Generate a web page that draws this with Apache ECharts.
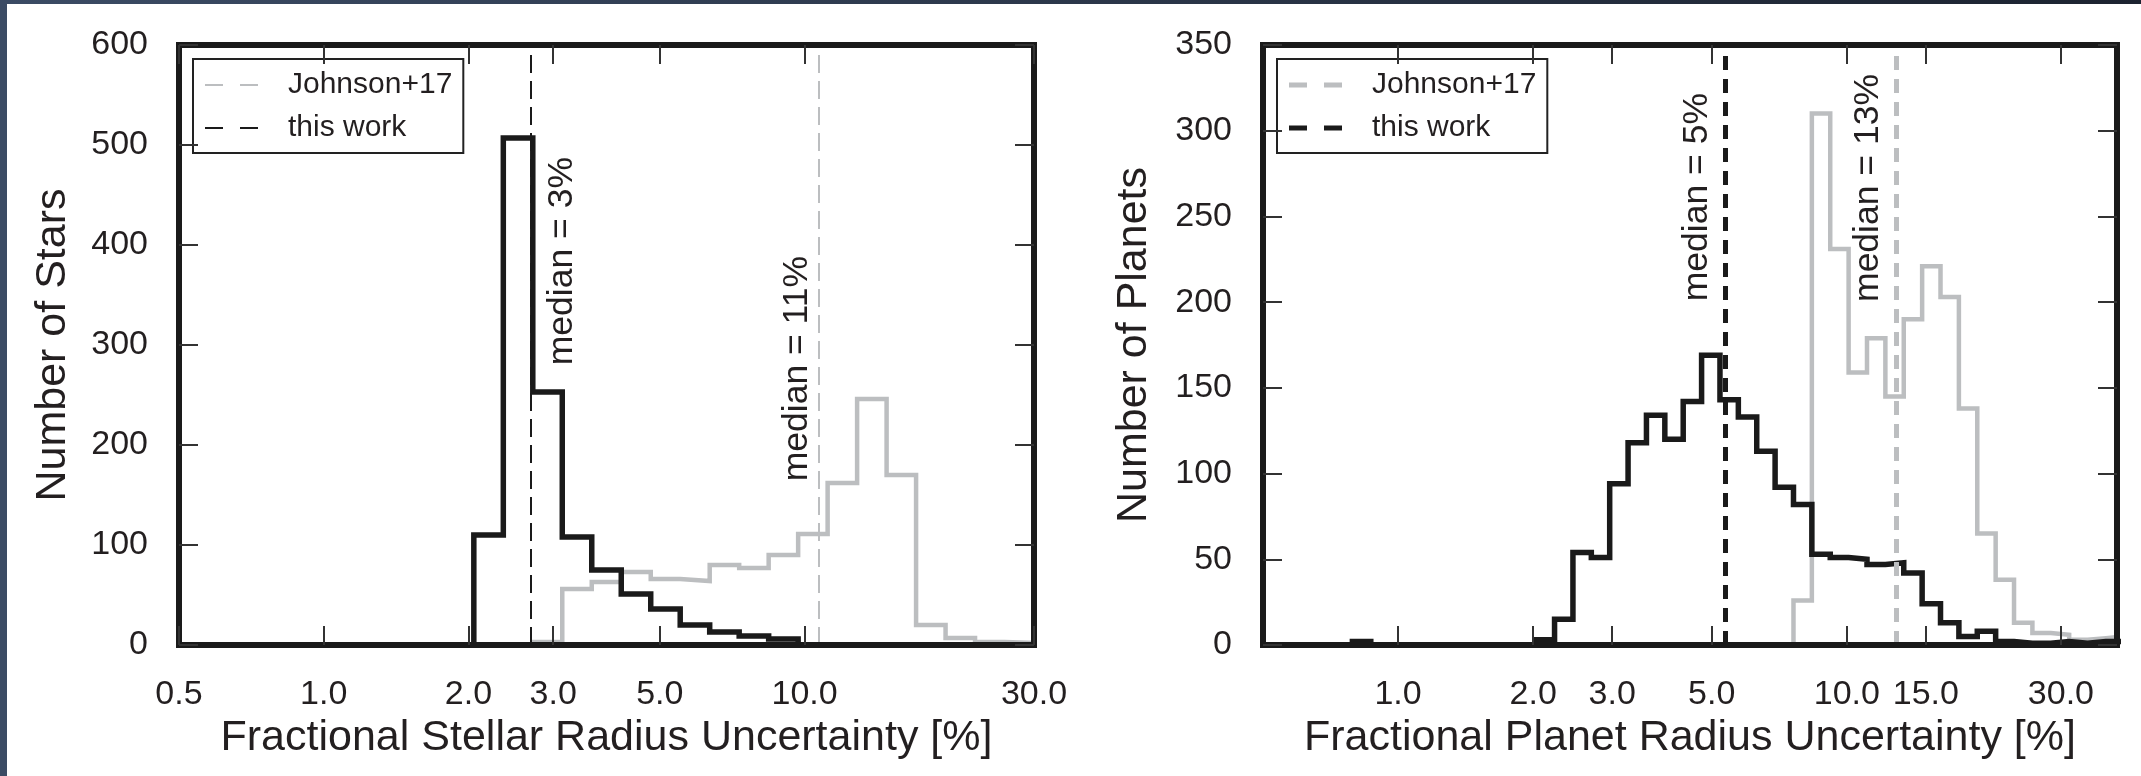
<!DOCTYPE html>
<html><head><meta charset="utf-8">
<script src="https://cdn.jsdelivr.net/npm/echarts@6/dist/echarts.min.js"></script>
<style>html,body{margin:0;padding:0;background:#fff;}#c{width:2141px;height:776px;}</style>
</head><body><div id="c"></div>
<script>
// ---------------- data ----------------
// Stellar radius panel: histogram bin edges (%) and counts per bin
const starBinEdges = [0.5, 0.5758, 0.6631, 0.7637, 0.8795, 1.0129, 1.1664, 1.3433, 1.5470, 1.7816,
  2.0517, 2.3629, 2.7212, 3.1338, 3.6091, 4.1563, 4.7866, 5.5124, 6.3483, 7.3110,
  8.4197, 9.6964, 11.1668, 12.8601, 14.8103, 17.0562, 19.6426, 22.6212, 26.0516, 30.0];
const starThisWork = [0,0,0,0,0,0,0,0,0,0, 110,507,253,108,75,51,36,20,13,9, 6,0,0,0,0,0,0,0,0];
const starJohnson  = [0,0,0,0,0,0,0,0,0,0, 0,0,3,56,63,73,66,64,80,77, 90,111,162,246,170,20,7,3,2];
const starMedianThisWork = 2.70;
const starMedianJohnson = 10.65;
const starXTicks = [0.5, 1, 2, 3, 5, 10, 30];

// Planet radius panel
const planetBinEdges = [0.4937, 0.5425, 0.5961, 0.6551, 0.7199, 0.7910, 0.8693, 0.9552, 1.0497, 1.1535,
  1.2675, 1.3929, 1.5306, 1.6820, 1.8483, 2.0311, 2.2320, 2.4527, 2.6953, 2.9618,
  3.2547, 3.5766, 3.9303, 4.3190, 4.7461, 5.2154, 5.7312, 6.2980, 6.9209, 7.6053,
  8.3574, 9.1839, 10.0922, 11.0903, 12.1871, 13.3923, 14.7168, 16.1722, 17.7716, 19.5291,
  21.4605, 23.5828, 25.9150, 28.4779, 31.2942, 34.3891, 37.7900, 41.5272];
const planetThisWork = [0,0,0,0,0, 2, 0,0,0,0,0,0,0,0,0,
  3,15,54,51,94,118,134,120,142,169,143,133,113,92,82,53,51,50,47,48,42,24,13,5,8,2,1,1,2,1,2,2];
const planetJohnson = [0,0,0,0,0,0,0,0,0,0, 0,0,0,0,0,0,0,0,0,0, 0,0,0,0,0,0,0,0,0,
  26,310,231,159,179,145,190,221,203,138,65,38,13,7,6,3,4,5];
const planetMedianThisWork = 5.31;
const planetMedianJohnson = 12.87;
const planetXTicks = [1, 2, 3, 5, 10, 15, 30];

const seriesNames = ['Johnson+17', 'this work'];

// ---------------- styling ----------------
const FONT = "'Liberation Sans', Arial, Helvetica, sans-serif";
const TXT = '#231f20';
const BLACK = '#1a1a1a';
const GRAY = '#bcbec0';
const L10 = Math.log10;

function stepPath(edges, counts) {
  const pts = [[L10(edges[0]), 0]];
  for (let i = 0; i < counts.length; i++) {
    pts.push([L10(edges[i]), counts[i]]);
    pts.push([L10(edges[i + 1]), counts[i]]);
  }
  pts.push([L10(edges[edges.length - 1]), 0]);
  return pts;
}

const frameLine = { show: true, onZero: false, lineStyle: { color: BLACK, width: 6, cap: 'square' } };
const tickStyle = { color: '#333', width: 2 };

function xAxes(grid, lo, hi, ticks, name) {
  const cv = ticks.map(L10);
  const base = {
    gridIndex: grid, type: 'value', min: L10(lo), max: L10(hi), z: 10,
    axisLine: frameLine, splitLine: { show: false }
  };
  return [
    Object.assign({}, base, {
      position: 'bottom',
      axisTick: { show: true, inside: true, length: 19, lineStyle: tickStyle, customValues: cv },
      axisLabel: { show: true, customValues: cv, margin: 33, fontSize: 34, color: TXT, fontFamily: FONT,
        formatter: v => Math.pow(10, v).toFixed(1) },
      name: name, nameLocation: 'middle', nameGap: 72,
      nameTextStyle: { fontSize: 43, color: TXT, fontFamily: FONT }
    }),
    Object.assign({}, base, {
      position: 'top',
      axisTick: { show: true, inside: true, length: 19, lineStyle: tickStyle, customValues: cv },
      axisLabel: { show: false }
    })
  ];
}
function yAxes(grid, max, step, name, gap) {
  const base = {
    gridIndex: grid, type: 'value', min: 0, max: max, interval: step, z: 10,
    axisLine: frameLine, splitLine: { show: false },
    axisTick: { show: true, inside: true, length: 19, lineStyle: tickStyle }
  };
  return [
    Object.assign({}, base, {
      position: 'left',
      axisLabel: { show: true, margin: 31, fontSize: 34, color: TXT, fontFamily: FONT },
      name: name, nameLocation: 'middle', nameGap: gap,
      nameTextStyle: { fontSize: 43, color: TXT, fontFamily: FONT }
    }),
    Object.assign({}, base, { position: 'right', axisLabel: { show: false } })
  ];
}

function histSeries(axisIdx, name, edges, counts, color, width) {
  return {
    type: 'line', name: name, xAxisIndex: axisIdx, yAxisIndex: axisIdx,
    data: stepPath(edges, counts), symbol: 'none', showSymbol: false, silent: true,
    lineStyle: { color: color, width: width, join: 'miter', cap: 'butt' },
    emphasis: { disabled: true }, animation: false, z: 2
  };
}
function medianSeries(axisIdx, name, median, color, width, dash, pos, dist) {
  return {
    type: 'line', name: name, xAxisIndex: axisIdx, yAxisIndex: axisIdx, data: [],
    symbol: 'none', lineStyle: { color: color, width: width, type: dash }, itemStyle: { color: color },
    animation: false, z: 3,
    markLine: {
      silent: true, symbol: ['none', 'none'], animation: false, emphasis: { disabled: true },
      lineStyle: { color: color, width: width, type: dash, cap: 'butt' },
      label: {
        show: true, position: pos, distance: dist, formatter: 'median = ' + Math.round(median) + '%',
        fontSize: 35.5, color: TXT, fontFamily: FONT
      },
      data: [{ xAxis: L10(median) }]
    }
  };
}
function legendFor(left, h) {
  const icon = 'path://M0,0h18v' + h + 'h-18zM35,0h18v' + h + 'h-18z';
  return {
    left: left, top: 59, orient: 'vertical', selectedMode: false,
    backgroundColor: '#fff', borderColor: '#222', borderWidth: 2, borderRadius: 0,
    padding: [11, 11, 10, 12], itemGap: 13, itemWidth: 53, itemHeight: 14,
    textStyle: { fontSize: 30, color: TXT, fontFamily: FONT, lineHeight: 30, padding: [0, 0, 0, 25] },
    data: [
      { name: seriesNames[0], icon: icon, itemStyle: { color: GRAY, borderWidth: 0 } },
      { name: seriesNames[1], icon: icon, itemStyle: { color: BLACK, borderWidth: 0 } }
    ]
  };
}

const option = {
  backgroundColor: '#fff',
  animation: false,
  textStyle: { fontFamily: FONT },
  grid: [
    { left: 179, top: 45, width: 855, height: 600, show: false },
    { left: 1263, top: 45, width: 854, height: 600, show: false }
  ],
  xAxis: [].concat(
    xAxes(0, 0.5, 30, starXTicks, 'Fractional Stellar Radius Uncertainty [%]'),
    xAxes(1, 0.5, 40, planetXTicks, 'Fractional Planet Radius Uncertainty [%]')
  ),
  yAxis: [].concat(
    yAxes(0, 600, 100, 'Number of Stars', 104),
    yAxes(1, 350, 50, 'Number of Planets', 107)
  ),
  legend: [legendFor(193, 2), legendFor(1277, 5)],
  series: [
    histSeries(0, 'Johnson+17 hist', starBinEdges, starJohnson, GRAY, 4.5),
    histSeries(0, 'this work hist', starBinEdges, starThisWork, BLACK, 5.5),
    medianSeries(0, seriesNames[0], starMedianJohnson, GRAY, 2, [18, 8], 'insideEndTop', [211, 4]),
    medianSeries(0, seriesNames[1], starMedianThisWork, BLACK, 2, [18, 8], 'insideEndBottom', [112, 14]),
    histSeries(2, 'Johnson+17 hist p', planetBinEdges, planetJohnson, GRAY, 4.5),
    histSeries(2, 'this work hist p', planetBinEdges, planetThisWork, BLACK, 5.5),
    medianSeries(2, seriesNames[0], planetMedianJohnson, GRAY, 5, [14, 9], 'insideEndTop', [29, 10]),
    medianSeries(2, seriesNames[1], planetMedianThisWork, BLACK, 5, [14, 9], 'insideEndTop', [48, 10])
  ],
  graphic: [
    { type: 'rect', left: 0, top: 0, z: 100, silent: true, shape: { width: 7, height: 776 }, style: { fill: '#3b4b64' } },
    { type: 'rect', left: 0, top: 0, z: 100, silent: true, shape: { width: 2141, height: 4 },
      style: { fill: new echarts.graphic.LinearGradient(0, 0, 1, 0, [{ offset: 0, color: '#3b4b64' }, { offset: 1, color: '#1c2330' }]) } }
  ]
};

const chart = echarts.init(document.getElementById('c'), null, { renderer: 'canvas', width: 2141, height: 776 });
chart.setOption(option);
</script>
</body></html>
